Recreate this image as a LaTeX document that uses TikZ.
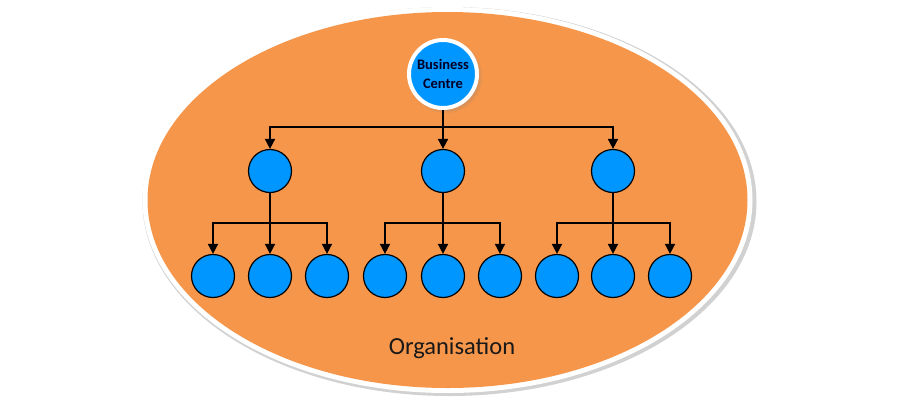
\documentclass[tikz,border=0pt]{standalone}
\usepackage{fontspec}
\setmainfont{Carlito}
\usetikzlibrary{arrows.meta,shadows}
\definecolor{orgorange}{RGB}{246,150,74}
\definecolor{nodeblue}{RGB}{0,150,255}
\tikzset{
  leaf/.style={circle,fill=nodeblue,draw=black,line width=1.2pt,minimum size=43pt,inner sep=0pt},
  conn/.style={line width=1.7pt,draw=black},
  arr/.style={conn,-{Triangle[width=10pt,length=10pt]}},
}
\begin{document}
\begin{tikzpicture}[x=1pt,y=-1pt]
\useasboundingbox (0,0) rectangle (900,400);
\fill[white] (0,0) rectangle (900,400);
% outer ellipse with rim and soft shadow
\fill[black!18] (449.5,201.5) ellipse [x radius=307pt,y radius=194.5pt];
\fill[white] (447.5,200) ellipse [x radius=305pt,y radius=193pt];
\fill[orgorange] (447.5,200) ellipse [x radius=300pt,y radius=188pt];
% top node
\node[circle,fill=nodeblue,draw=white,line width=4pt,minimum size=68pt,inner sep=0pt,
      align=center,font=\bfseries\fontsize{14.5}{19}\selectfont,text=black!85!blue,
      circular drop shadow={shadow xshift=2pt,shadow yshift=-2pt,opacity=.35}]
  (bc) at (443,74) {Business\\Centre};
% middle nodes
\node[leaf] (m1) at (270,171) {};
\node[leaf] (m2) at (443,171) {};
\node[leaf] (m3) at (613,171) {};
% leaves
\node[leaf] (l1) at (213,276) {};
\node[leaf] (l2) at (270,276) {};
\node[leaf] (l3) at (327,276) {};
\node[leaf] (l4) at (385,276) {};
\node[leaf] (l5) at (443,276) {};
\node[leaf] (l6) at (500,276) {};
\node[leaf] (l7) at (557,276) {};
\node[leaf] (l8) at (613,276) {};
\node[leaf] (l9) at (670,276) {};
% connectors top level
\coordinate (j0) at (443,127);
\draw[conn] (bc.south) -- (j0);
\draw[arr] (j0) -| (m1.north);
\draw[arr] (j0) -| (m3.north);
\draw[arr] (j0) -- (m2.north);
% second level
\coordinate (j1) at (270,223);
\coordinate (j2) at (443,223);
\coordinate (j3) at (613,223);
\draw[conn] (m1.south) -- (j1);
\draw[conn] (m2.south) -- (j2);
\draw[conn] (m3.south) -- (j3);
\draw[arr] (j1) -| (l1.north);
\draw[arr] (j1) -- (l2.north);
\draw[arr] (j1) -| (l3.north);
\draw[arr] (j2) -| (l4.north);
\draw[arr] (j2) -- (l5.north);
\draw[arr] (j2) -| (l6.north);
\draw[arr] (j3) -| (l7.north);
\draw[arr] (j3) -- (l8.north);
\draw[arr] (j3) -| (l9.north);
% label
\node[font=\fontsize{24.5}{28}\selectfont,text=black!90] (org) at (452,348) {Organisation};
\end{tikzpicture}
\end{document}
